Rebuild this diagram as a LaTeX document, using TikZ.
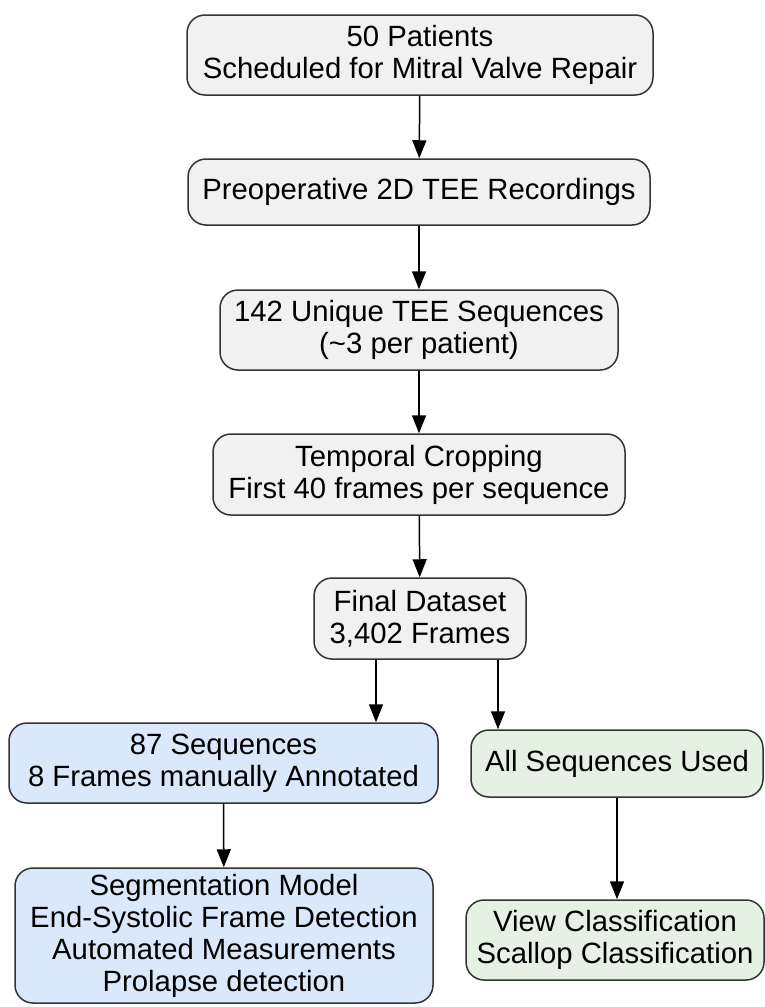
\documentclass[tikz,border=0pt]{standalone}
\usepackage{fontspec}
\setmainfont{Liberation Sans}
\usetikzlibrary{arrows.meta}
\definecolor{stagegray}{HTML}{F1F1F1}
\definecolor{stageblue}{HTML}{DAE8FC}
\definecolor{stagegreen}{HTML}{E5F2E3}
\definecolor{edgegray}{HTML}{333333}

\begin{document}
\begin{tikzpicture}[x=1pt,y=-1pt]
    \useasboundingbox (0,0) rectangle (765,1007);
    \tikzstyle {stage} = [shape=rectangle, rounded corners=18pt, draw=edgegray, line width=1.5pt, fill=stagegray, align=center, inner sep=0pt, font=\fontsize{29.3}{32}\selectfont];
    \tikzstyle {flow} = [-{Triangle[length=18pt,width=14pt]}, line width=1.5pt, draw=black];
    %% preparation of the data
    \node (pat) [stage, minimum width=466pt, minimum height=80pt] at (420,55) {50 Patients\\Scheduled for Mitral Valve Repair};
    \node (rec) [stage, minimum width=462pt, minimum height=66pt] at (419,192) {Preoperative 2D TEE Recordings};
    \node (seq) [stage, minimum width=398pt, minimum height=80pt] at (419,330) {142 Unique TEE Sequences\\(\textasciitilde 3 per patient)};
    \node (crop) [stage, minimum width=412pt, minimum height=81pt] at (419,474.5) {Temporal Cropping\\First 40 frames per sequence};
    \node (data) [stage, minimum width=212pt, minimum height=81pt] at (420,618.5) {Final Dataset\\3,402 Frames};
    \draw [flow] (pat) -- (rec);
    \draw [flow] (rec) -- (seq);
    \draw [flow] (seq) -- (crop);
    \draw [flow] (crop) -- (data);
    %% annotated branch
    \tikzstyle {stage} = [shape=rectangle, rounded corners=18pt, draw=edgegray, line width=1.5pt, fill=stageblue, align=center, inner sep=0pt, font=\fontsize{29.3}{32}\selectfont];
    \node (ann) [stage, minimum width=429pt, minimum height=80pt] at (223.5,763) {87 Sequences\\8 Frames manually Annotated};
    \node (seg) [stage, minimum width=418pt, minimum height=135pt] at (224,935.5) {Segmentation Model\\End-Systolic Frame Detection\\Automated Measurements\\Prolapse detection};
    \draw [flow] ([xshift=-44pt]data.south) -- ([xshift=-44pt]data.south |- ann.north);
    \draw [flow] (ann) -- (seg);
    %% classification branch
    \tikzstyle {stage} = [shape=rectangle, rounded corners=18pt, draw=edgegray, line width=1.5pt, fill=stagegreen, align=center, inner sep=0pt, font=\fontsize{29.3}{32}\selectfont];
    \node (all) [stage, minimum width=292pt, minimum height=67pt] at (617,763.5) {All Sequences Used};
    \node (view) [stage, minimum width=298pt, minimum height=80pt] at (615,940) {View Classification\\Scallop Classification};
    \draw [flow] ([xshift=78pt]data.south) -- ([xshift=78pt]data.south |- all.north);
    \draw [flow] (all.south) -- (all.south |- view.north);
\end{tikzpicture}
\end{document}
